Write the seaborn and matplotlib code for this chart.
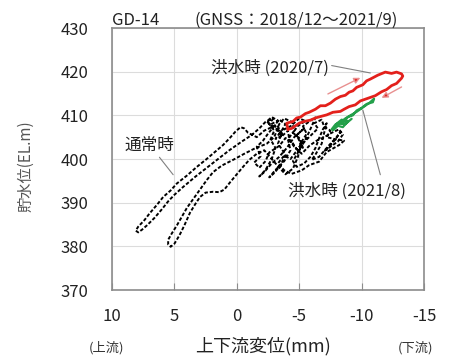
import matplotlib
matplotlib.use("Agg")
import matplotlib.pyplot as plt
import seaborn as sns
import pandas as pd

# Normal-period trace (2018/12 - 2021/9): upstream/downstream displacement [mm] vs reservoir level [EL.m]
normal_x = [-5.2, -4.8, -5.4, -4.6, -4.0, -3.4, -2.8, -2.2, -1.8, -2.3, -2.8, -3.1, -2.7, -3.0, -2.6, -2.9, -2.3, -1.8, -1.2,
            -0.4, 0.6, 1.5, 2.4, 3.3, 4.3, 5.0, 5.5, 6.0, 6.6, 7.2, 7.6, 7.9, 8.1, 7.9,
            7.4, 7.0, 6.4, 5.9, 5.3, 4.8, 4.0, 3.2, 2.5, 1.8, 1.1, 0.5, 0.1, -0.3, -0.6, -0.9,
            -1.6, -2.2, -3.2, -3.6, -3.3, -3.9, -3.5, -3.0, -2.6, -3.1, -3.8, -4.3, -4.1, -4.6, -4.4, -3.8, -3.4, -3.0, -2.4,
            -1.5, -0.6, 0.3, 1.2, 1.9, 2.4, 2.95, 3.5, 4.0, 4.4, 4.8, 5.2, 5.5, 5.5, 5.3, 5.0,
            4.6, 4.2, 3.75, 3.3, 2.95, 2.5, 1.9, 1.4, 1.0, 0.5, 0.0, -0.5, -1.0, -1.6, -2.2,
            -2.8, -3.4, -3.9, -4.5, -4.9, -5.1, -5.6, -5.3, -5.9, -6.3, -6.0, -5.6, -5.0, -4.5, -4.8, -5.4, -5.9, -6.3,
            -6.6, -6.9, -7.2, -7.0, -6.8, -6.3, -6.0, -6.6, -7.1, -7.6, -8.0, -8.3, -7.9, -7.4, -7.0, -7.6, -8.1, -8.5,
            -8.2, -7.6, -7.0, -6.4, -5.8, -5.2, -4.6, -4.2, -4.1,
            -3.6, -3.2, -2.7, -3.3, -2.8, -2.4, -2.9, -2.5, -2.1, -1.6, -1.9, -1.4, -1.8, -2.3, -2.6, -3.4, -3.9,
            -4.4, -4.8, -5.4, -6.0, -6.5, -6.2, -6.8, -7.0, -7.5, -7.2, -7.8, -8.6, -8.2, -7.7, -7.2, -6.6, -5.8,
            -5.2, -4.4, -3.8, -3.3, -3.8, -4.3, -4.7, -5.3, -5.0, -4.5, -4.9, -5.5, -5.0, -4.3, -3.6, -3.9, -3.4,
            -3.0, -3.5, -3.1, -3.7, -3.3]
normal_y = [403.0, 405.5, 407.0, 405.0, 402.5, 400.5, 399.0, 397.0, 396.0, 397.5, 400.0, 402.5, 404.5, 406.5, 408.0, 409.2, 408.5, 407.0, 405.5,
            404.0, 402.0, 400.0, 398.0, 396.0, 393.6, 391.8, 390.3, 388.5, 386.5, 384.8, 383.8, 383.2, 383.6, 384.5,
            386.0, 387.5, 389.5, 391.3, 392.8, 394.4, 396.2, 398.2, 399.8, 401.5, 403.2, 405.0, 406.3, 407.3, 407.0, 406.0,
            405.0, 406.5, 407.8, 406.0, 403.5, 401.0, 398.5, 396.8, 395.8, 397.5, 399.5, 402.0, 404.5, 406.5, 408.5, 409.3, 408.0, 405.0, 403.5,
            402.5, 401.2, 399.8, 398.5, 397.0, 395.2, 393.0, 390.8, 388.8, 386.8, 384.8, 383.0, 381.5, 380.4, 379.9, 380.6,
            382.5, 384.8, 387.7, 389.8, 391.3, 392.3, 392.5, 392.4, 393.0, 394.8, 396.5, 398.2, 399.8, 401.2, 402.0,
            400.0, 398.0, 396.5, 397.8, 400.5, 403.5, 405.8, 407.5, 408.8, 409.5, 407.5, 405.0, 402.0, 399.5, 398.2, 399.0, 400.5, 402.5,
            404.8, 406.8, 408.2, 406.0, 403.5, 401.0, 399.8, 400.5, 402.2, 403.8, 405.0, 406.2, 404.5, 402.8, 401.8, 403.0, 404.0, 405.6,
            406.8, 406.0, 405.0, 404.2, 403.0, 401.2, 402.8, 404.5, 406.5,
            405.2, 406.8, 407.9, 408.8, 409.6, 408.6, 407.2, 405.8, 404.2, 402.8, 400.6, 399.2, 398.0, 399.5, 401.5, 403.0, 404.8,
            404.0, 402.2, 403.9, 405.6, 407.0, 408.2, 409.0, 407.4, 406.5, 405.0, 404.6, 404.2, 403.2, 402.4, 401.6, 399.4, 398.6,
            397.4, 396.6, 397.4, 399.0, 400.8, 400.0, 401.5, 402.6, 404.8, 406.0, 407.6, 408.7, 409.3, 407.5, 406.5, 408.0, 409.0,
            407.6, 406.2, 404.6, 405.4, 406.6]

# Flood of 2020/7
flood2020_x = [-4.1, -4.0, -4.5, -4.8, -5.1, -5.5, -5.8, -6.3, -6.7, -7.1, -7.5, -7.9, -8.3, -8.7, -9.0, -9.3, -9.6, -10.1,
               -10.4, -10.7, -11.3, -11.9, -12.4, -12.8, -13.2, -13.3, -13.2, -12.8, -12.4, -12.0, -11.6, -11.1, -10.5,
               -9.9, -9.5, -9.0, -8.6, -8.3, -7.7, -7.2, -6.8, -6.3, -5.9, -5.4, -5.0, -4.7, -4.4, -4.1]
flood2020_y = [406.8, 408.2, 408.6, 409.4, 409.6, 410.4, 410.7, 411.4, 412.2, 412.2, 412.8, 413.7, 414.3, 414.6, 415.3, 415.6, 416.4, 417.0,
               417.9, 418.3, 419.2, 419.9, 419.6, 419.9, 419.5, 419.0, 418.5, 417.3, 416.8, 415.9, 415.4, 414.5, 413.9,
               413.3, 412.4, 412.0, 411.4, 410.9, 410.7, 410.1, 409.8, 409.4, 408.9, 408.6, 408.2, 407.6, 407.0, 406.8]

# Flood of 2021/8
flood2021_x = [-7.6, -7.9, -8.3, -8.7, -9.1, -9.6, -10.1, -10.6, -11.0, -10.9, -10.4, -10.0, -9.6, -9.3, -8.9, -8.6, -8.2, -7.9,
               -7.7, -8.1, -8.5, -8.9, -8.4, -8.0, -8.7, -9.2]
flood2021_y = [406.8, 407.9, 408.4, 409.3, 410.0, 410.8, 411.8, 412.8, 413.8, 413.0, 412.6, 411.7, 411.1, 410.0, 409.6, 408.5, 408.3, 407.2,
               406.6, 407.6, 407.3, 408.6, 409.0, 408.1, 408.0, 409.2]

x_ticks = [10, 5, 0, -5, -10, -15]
y_ticks = [370, 380, 390, 400, 410, 420, 430]

sns.set_theme(style="whitegrid")
plt.rcParams["font.family"] = ["Noto Sans CJK JP", "DejaVu Sans"]
plt.rcParams["axes.unicode_minus"] = False

W, H = 452, 356
fig = plt.figure(figsize=(W / 100, H / 100), dpi=100)
ax = fig.add_axes([112 / W, 66 / H, 312 / W, 262 / H])

normal = pd.DataFrame({"x": normal_x, "y": normal_y})
f2020 = pd.DataFrame({"x": flood2020_x, "y": flood2020_y})
f2021 = pd.DataFrame({"x": flood2021_x, "y": flood2021_y})

sns.lineplot(data=normal, x="x", y="y", sort=False, estimator=None, ax=ax,
             color="black", lw=1.4, linestyle=(0, (1.8, 1.0)))
sns.lineplot(data=f2020, x="x", y="y", sort=False, estimator=None, ax=ax,
             color="#e3201b", lw=2.0)
sns.lineplot(data=f2021, x="x", y="y", sort=False, estimator=None, ax=ax,
             color="#23a04a", lw=1.6)

ax.set_xlim(10, -15)
ax.set_ylim(370, 430)
ax.set_xticks(x_ticks)
ax.set_xticklabels([str(v) for v in x_ticks])
ax.set_yticks(y_ticks)
ax.set_yticklabels([str(v) for v in y_ticks])
ax.set_xlabel("")
ax.set_ylabel("")
ax.grid(True, color="#dcdcdc", lw=0.8)
for s in ax.spines.values():
    s.set_color("#8c8c8c")
    s.set_linewidth(1.2)
ax.tick_params(axis="x", direction="in", length=5, width=0.8, color="#8c8c8c",
               pad=13, labelsize=12, labelcolor="#222222", bottom=True)
ax.tick_params(axis="y", length=0, pad=17, labelsize=12, labelcolor="#222222")

# Annotations
txt = dict(fontsize=12, color="#222222")
ax.text(7.0, 403.2, "通常時", ha="center", va="center", **txt)
ax.plot([6.2, 5.1], [400.4, 396.4], color="#808080", lw=0.8)
ax.text(-2.66, 420.8, "洪水時 (2020/7)", ha="center", va="center", **txt)
ax.plot([-7.6, -10.7], [421.4, 419.7], color="#808080", lw=0.8)
ax.text(-8.83, 392.7, "洪水時 (2021/8)", ha="center", va="center", **txt)
ax.plot([-10.1, -11.5], [411.2, 396.4], color="#808080", lw=0.8)

arrow = dict(arrowstyle="-|>", edgecolor="#e89090", facecolor="#e3201b", lw=1.0,
             mutation_scale=9, shrinkA=0, shrinkB=0)
ax.annotate("", xy=(-9.9, 418.6), xytext=(-7.3, 414.9), arrowprops=arrow)
ax.annotate("", xy=(-11.6, 414.0), xytext=(-13.2, 416.5), arrowprops=arrow)

# Titles and axis labels
fig.text(112 / W, 1 - 25 / H, "GD-14", fontsize=12, color="#222222", ha="left", va="baseline")
fig.text(195 / W, 1 - 25 / H, "(GNSS：2018/12～2021/9)", fontsize=12, color="#222222",
         ha="left", va="baseline")
fig.text(26 / W, 1 - 166 / H, "貯水位(EL.m)", fontsize=11, color="#555555",
         rotation=90, ha="center", va="center")
fig.text(263 / W, 1 - 346 / H, "上下流変位(mm)", fontsize=13, color="#222222", ha="center", va="center")
fig.text(107 / W, 1 - 348 / H, "(上流)", fontsize=9.5, color="#333333", ha="center", va="center")
fig.text(416 / W, 1 - 348 / H, "(下流)", fontsize=9.5, color="#333333", ha="center", va="center")

fig.savefig("out.png", dpi=100)
